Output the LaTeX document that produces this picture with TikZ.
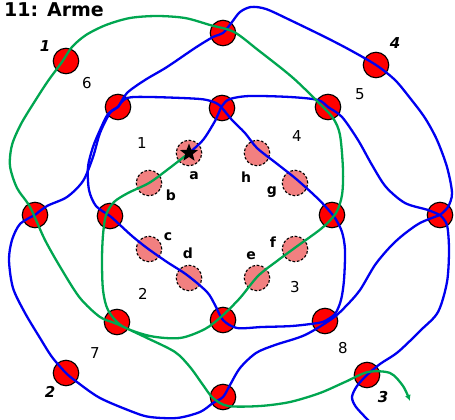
\documentclass[tikz,border=0pt]{standalone}
\usepackage{fontspec}
\setmainfont{DejaVu Sans}
\usetikzlibrary{shapes.geometric,arrows.meta}
\definecolor{rred}{RGB}{255,0,0}
\definecolor{pinkc}{RGB}{242,128,128}
\definecolor{bl}{RGB}{0,0,240}
\definecolor{gr}{RGB}{0,166,80}
\begin{document}
\begin{tikzpicture}[x=1pt,y=-1pt,
  spot/.style={circle, draw=black, fill=rred, line width=1.1pt, minimum size=25.5pt, inner sep=0pt},
  pnk/.style={circle, draw=black, fill=pinkc, dash pattern=on 2.6pt off 1.8pt, line width=1.1pt, minimum size=25.5pt, inner sep=0pt},
  bw/.style={draw=bl, line width=2.3pt, line cap=round, line join=round},
  gw/.style={draw=gr, line width=2.3pt, line cap=round, line join=round},
  lab/.style={font=\bfseries\fontsize{14}{14}\selectfont, inner sep=0pt},
  num/.style={font=\fontsize{15}{15}\selectfont, inner sep=0pt},
  onum/.style={font=\bfseries\itshape\fontsize{15}{15}\selectfont, inner sep=0pt}]
\useasboundingbox (0,0) rectangle (455,420);

% red spots
\node[spot] (P1) at (66,61) {};
\node[spot] (T)  at (223,33) {};
\node[spot] (P4) at (376,65) {};
\node[spot] (R)  at (440,215) {};
\node[spot] (P3) at (367,375) {};
\node[spot] (B)  at (223,397) {};
\node[spot] (P2) at (66,373) {};
\node[spot] (L)  at (35,215) {};
\node[spot] (M1) at (118,107) {};
\node[spot] (M2) at (222,108) {};
\node[spot] (M3) at (328,107) {};
\node[spot] (M4) at (332,215) {};
\node[spot] (M5) at (325,321) {};
\node[spot] (M6) at (223,320) {};
\node[spot] (M7) at (117,322) {};
\node[spot] (M8) at (110,216) {};

% pink spots
\node[pnk] (a) at (189,153) {};
\node[pnk] (b) at (149,183) {};
\node[pnk] (c) at (149,249) {};
\node[pnk] (d) at (189,278) {};
\node[pnk] (e) at (257,278) {};
\node[pnk] (f) at (295,249) {};
\node[pnk] (g) at (295,183) {};
\node[pnk] (h) at (257,153) {};

\coordinate (endB) at (369,421);

% blue strands
\draw[bw] plot[smooth] coordinates {(a.center) (203,140) (215,121) (222,106) (230,99) (250,96) (290,97) (318,100) (M3.center) (342,117) (358,140) (372,165) (386,187) (405,203) (428,210) (R.center)};
\draw[bw] plot[smooth] coordinates {(R.center) (447,225) (449,250) (447,282) (438,312) (421,330) (398,352) (380,364) (P3.center) (357,386) (352,397) (356,407) (endB)};
\draw[bw] plot[smooth] coordinates {(M1.center) (127,98) (150,97) (200,99) (216,103) (M2.center) (232,120) (245,133) (257,148) (276,163) (295,178) (313,194) (325,206) (335,218) (342,232) (345,250) (344,280) (341,300) (335,314) (M5.center)};
\draw[bw] plot[smooth] coordinates {(M5.center) (318,323) (292,326) (262,327) (237,328) (M6.center) (215,305) (207,292) (187,275) (167,262) (147,248) (132,236) (120,225) (M8.center) (96,206) (89,190) (88,167) (93,147) (100,130) (108,114) (M1.center)};
\draw[bw] plot[smooth] coordinates {(L.center) (47,206) (67,197) (83,181) (93,157) (100,133) (110,113) (M1.center) (127,93) (145,80) (167,67) (195,48) (213,37) (T.center) (232,22) (240,12) (251,7) (266,9) (290,20) (325,37) (350,50) (P4.center) (395,80) (410,98) (425,118) (437,140) (447,167) (452,193) (448,207) (R.center)};
\draw[bw] plot[smooth] coordinates {(R.center) (420,223) (403,235) (390,247) (375,265) (360,290) (347,305) (333,318) (305,335) (275,345) (256,353) (240,368) (230,385) (B.center) (213,403) (200,412) (177,418) (150,417) (133,412) (100,398) (77,382) (P2.center) (52,357) (40,338) (25,313) (13,288) (9,260) (12,240) (20,224) (L.center)};

% green strand
\draw[gw,-{Latex[length=6pt,width=6pt]}] plot[smooth] coordinates {(a.center) (167,170) (149,183) (128,193) (114,202) (106,215) (103,235) (102,260) (103,290) (108,310) (122,326) (150,336) (180,338) (205,329) (222,316) (240,298) (258,276) (277,261) (296,247) (322,228) (336,213) (342,195) (343,170) (340,135) (333,118) (318,102) (292,77) (258,50) (234,32) (210,25) (185,18) (157,16) (130,18) (106,25) (86,35) (72,47) (62,62) (48,81) (35,101) (21,124) (12,145) (10,166) (17,188) (30,207) (45,240) (62,270) (80,298) (100,317) (117,324) (147,338) (175,352) (190,367) (203,385) (213,398) (228,406) (260,406) (290,402) (320,393) (345,382) (368,372) (390,373) (403,386) (410,401)};

% star
\node[star, star points=5, star point ratio=2.4, fill=black, minimum size=19pt, inner sep=0pt] (st) at (a.center) {};

% labels
\node[anchor=base west, font=\bfseries\fontsize{19}{20}\selectfont, inner sep=0pt] (title) at (4,17) {11: Arme};

\node[lab] (la) at (194,176) {a};
\node[lab] (lb) at (171,195) {b};
\node[lab] (lc) at (168,237) {c};
\node[lab] (ld) at (188,253) {d};
\node[lab] (le) at (251,256) {e};
\node[lab] (lf) at (273,242) {f};
\node[lab] (lg) at (272,192) {g};
\node[lab] (lh) at (246,177) {h};

\node[num] (n1) at (142,143) {1};
\node[num] (n4) at (297,136) {4};
\node[num] (n2) at (143,294) {2};
\node[num] (n3) at (295,287) {3};
\node[num] (n5) at (360,94) {5};
\node[num] (n6) at (87,83) {6};
\node[num] (n7) at (95,353) {7};
\node[num] (n8) at (343,348) {8};

\node[onum] (o1) at (45,46) {1};
\node[onum] (o4) at (395,43) {4};
\node[onum] (o2) at (50,392) {2};
\node[onum] (o3) at (383,397) {3};
\end{tikzpicture}
\end{document}
